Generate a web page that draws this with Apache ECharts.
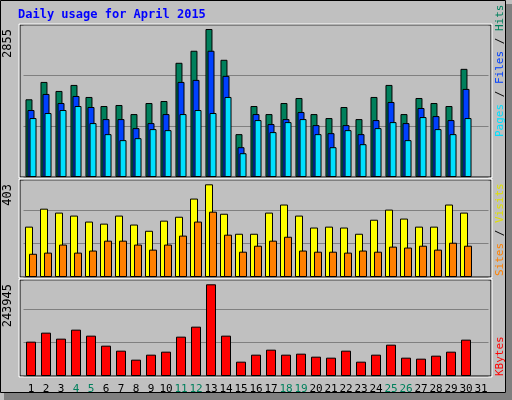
<!DOCTYPE html>
<html>
<head>
<meta charset="utf-8">
<script src="https://cdn.jsdelivr.net/npm/echarts@6/dist/echarts.min.js"></script>
<style>
html, body { margin: 0; padding: 0; background: #c0c0c0; }
#chart { width: 512px; height: 400px; }
</style>
</head>
<body>
<div id="chart"></div>
<script>
/* 每日数据 - April 2015 */
var days = [];
for (var d = 1; d <= 31; d++) days.push(String(d));
var weekend = ['4', '5', '11', '12', '18', '19', '25', '26'];

var hits = [1499, 1834, 1660, 1776, 1544, 1369, 1389, 1214, 1427, 1466, 2203, 2435, 2855, 2261, 827,
	1369, 1214, 1427, 1524, 1214, 1137, 1350, 1117, 1544, 1776, 1214, 1524, 1427, 1369, 2086, null];
var files = [1292, 1602, 1427, 1563, 1350, 1117, 1117, 943, 1040, 1214, 1834, 1873, 2435, 1951, 575,
	1214, 1021, 1117, 1253, 1001, 846, 1001, 827, 1098, 1447, 1040, 1331, 1175, 1098, 1699, null];
var pages = [1137, 1234, 1292, 1369, 1040, 827, 711, 749, 924, 904, 1214, 1292, 1234, 1544, 459,
	1098, 866, 1059, 1117, 827, 575, 904, 633, 943, 1059, 711, 1156, 924, 827, 1137, null];
var visits = [219, 297, 280, 267, 241, 232, 267, 228, 201, 245, 262, 341, 403, 275, 188,
	188, 280, 315, 267, 215, 219, 215, 188, 249, 293, 254, 219, 219, 315, 280, null];
var sites = [101, 106, 141, 106, 115, 158, 158, 141, 119, 141, 180, 241, 284, 184, 110,
	136, 158, 175, 115, 110, 110, 106, 115, 110, 132, 128, 136, 119, 149, 136, null];
var kbytes = [91370, 115320, 99350, 123300, 107340, 80720, 67420, 43470, 56770, 64760, 104670, 131290, 243945, 107340, 38140,
	56770, 70080, 56770, 59430, 51450, 48790, 67420, 38140, 56770, 83380, 48790, 46130, 54110, 64760, 96690, null];

var maxHits = 2855, maxVisits = 403, maxKB = 243945;

// 三个面板: top, height, 轴最大值, 网格间隔
var panels = [
	{ top: 25, height: 152, max: 2932, interval: 984 },
	{ top: 180, height: 97, max: 421.7, interval: 144.6 },
	{ top: 280, height: 96, max: 255385, interval: 88600 }
];

var chart = echarts.init(document.getElementById('chart'));

var grids = [], xAxes = [], yAxes = [];
panels.forEach(function(p, i) {
	grids.push({ left: 23.5, right: 23.5, top: p.top, height: p.height });
	xAxes.push({
		type: 'category', gridIndex: i, data: days,
		axisLine: { show: false }, axisTick: { show: false },
		axisLabel: i == 2 ? {
			show: true, margin: 8, fontFamily: 'DejaVu Sans Mono', fontSize: 11,
			interval: 0,
			color: function(v) { return weekend.indexOf(v) >= 0 ? '#00805c' : '#000'; }
		} : { show: false }
	});
	yAxes.push({
		type: 'value', gridIndex: i, min: 0, max: p.max, interval: p.interval,
		axisLine: { show: false }, axisTick: { show: false }, axisLabel: { show: false },
		splitLine: { show: true, lineStyle: { color: '#808080', width: 1 } }
	});
});

function bar(name, data, color, gi, width, gap) {
	return {
		name: name, type: 'bar', data: data, xAxisIndex: gi, yAxisIndex: gi,
		barWidth: width, barGap: gap, animation: false,
		itemStyle: { color: color, borderColor: '#000', borderWidth: 1 }
	};
}

function frame(y, h) {
	return [
		{ type: 'rect', shape: { x: 20, y: y, width: 471, height: h }, style: { fill: null, stroke: '#000', lineWidth: 1 } },
		{ type: 'rect', shape: { x: 19, y: y - 1, width: 473, height: h + 2 }, style: { fill: null, stroke: '#fff', lineWidth: 1 } }
	];
}

var graphics = [
	{ type: 'rect', shape: { x: 0.5, y: 0.5, width: 505, height: 392 }, style: { fill: null, stroke: '#000', lineWidth: 1 } },
	{ type: 'rect', shape: { x: 4, y: 393, width: 508, height: 7 }, style: { fill: '#808080' } },
	{ type: 'rect', shape: { x: 506, y: 4, width: 6, height: 396 }, style: { fill: '#808080' } },
	{ type: 'text', x: 18, y: 9, style: { text: 'Daily usage for April 2015', fill: '#0000ff', font: 'bold 12px "DejaVu Sans Mono"' } },
	{ type: 'text', x: 8, y: 29, rotation: Math.PI / 2, style: { text: String(maxHits), fill: '#000', font: '12px "DejaVu Sans Mono"', align: 'right', verticalAlign: 'middle' } },
	{ type: 'text', x: 8, y: 184, rotation: Math.PI / 2, style: { text: String(maxVisits), fill: '#000', font: '12px "DejaVu Sans Mono"', align: 'right', verticalAlign: 'middle' } },
	{ type: 'text', x: 8, y: 284, rotation: Math.PI / 2, style: { text: String(maxKB), fill: '#000', font: '12px "DejaVu Sans Mono"', align: 'right', verticalAlign: 'middle' } },
	{ type: 'text', x: 500, y: 137, rotation: Math.PI / 2, style: {
		text: '{p|Pages} {s|/} {f|Files} {s|/} {h|Hits}', align: 'left', verticalAlign: 'middle',
		font: '11px "DejaVu Sans Mono"',
		rich: { p: { fill: '#00e0ff' }, f: { fill: '#0040ff' }, h: { fill: '#00805c' }, s: { fill: '#000' } }
	} },
	{ type: 'text', x: 500, y: 276, rotation: Math.PI / 2, style: {
		text: '{st|Sites} {s|/} {v|Visits}', align: 'left', verticalAlign: 'middle',
		font: '11px "DejaVu Sans Mono"',
		rich: { st: { fill: '#ff8000' }, v: { fill: '#e0e000' }, s: { fill: '#000' } }
	} },
	{ type: 'text', x: 500, y: 376, rotation: Math.PI / 2, style: { text: 'KBytes', fill: '#ff0000', font: '11px "DejaVu Sans Mono"', align: 'left', verticalAlign: 'middle' } }
].concat(frame(25, 152), frame(180, 97), frame(280, 96));

chart.setOption({
	backgroundColor: '#c0c0c0',
	animation: false,
	grid: grids,
	xAxis: xAxes,
	yAxis: yAxes,
	graphic: graphics,
	series: [
		bar('Hits', hits, '#00805c', 0, 7, '-71%'),
		bar('Files', files, '#0040ff', 0, 7, '-71%'),
		bar('Pages', pages, '#00e0ff', 0, 7, '-71%'),
		bar('Visits', visits, '#ffff00', 1, 8, '-50%'),
		bar('Sites', sites, '#ff8000', 1, 8, '-50%'),
		bar('KBytes', kbytes, '#ff0000', 2, 10, '0%')
	]
});
</script>
</body>
</html>
